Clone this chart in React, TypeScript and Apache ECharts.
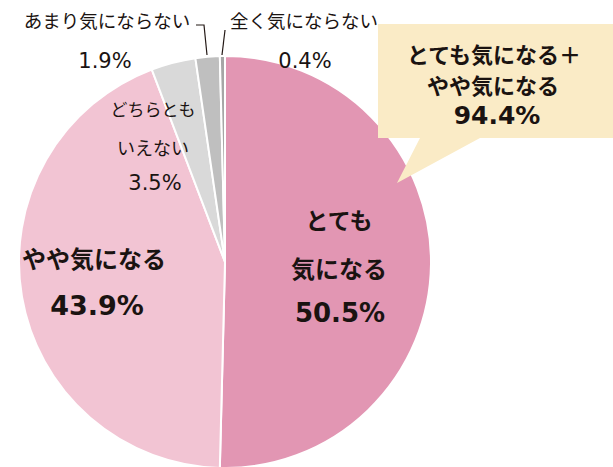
import React, { useEffect, useRef } from "react";
import * as echarts from "echarts";

const categories = ["とても気になる", "やや気になる", "どちらともいえない", "あまり気にならない", "全く気にならない"];
const values = [50.5, 43.9, 3.5, 1.9, 0.4];
const colors = ["#E296B3", "#F2C4D3", "#D9D9D9", "#BFBFBF", "#A6A6A6"];
const calloutLines = ["とても気になる＋", "やや気になる", "94.4%"];

const JP = "'Noto Sans CJK JP', sans-serif";
const NUM = "'DejaVu Sans', 'Noto Sans CJK JP', sans-serif";
const TXT = "#1a1311";

function t(x: number, y: number, text: string, size: number, bold: boolean, font = JP) {
  return {
    type: "text",
    x,
    y,
    z: 10,
    style: {
      text,
      fontSize: size,
      fontWeight: bold ? "bold" : "normal",
      fontFamily: font,
      fill: TXT,
      align: "center",
      verticalAlign: "middle",
    },
  };
}

export default function App() {
  const ref = useRef<HTMLDivElement>(null);
  useEffect(() => {
    const chart = echarts.init(ref.current!, null, { renderer: "svg" });
    chart.setOption({
      animation: false,
      backgroundColor: "#ffffff",
      series: [
        {
          type: "pie",
          center: [225, 262],
          radius: 206,
          startAngle: 90,
          clockwise: true,
          label: { show: false },
          labelLine: { show: false },
          itemStyle: { borderColor: "#ffffff", borderWidth: 2 },
          data: categories.map((name, i) => ({ name, value: values[i], itemStyle: { color: colors[i] } })),
        },
      ],
      graphic: [
        {
          type: "polygon",
          z: 5,
          shape: {
            points: [
              [378, 24],
              [613, 24],
              [613, 138],
              [480, 138],
              [397, 183],
              [420, 138],
              [378, 138],
            ],
          },
          style: { fill: "#FAEBC6" },
        },
        t(494, 53, calloutLines[0], 22, true),
        t(493, 84, calloutLines[1], 22, true),
        t(497, 115, calloutLines[2], 25, true, NUM),
        {
          type: "polyline",
          z: 10,
          shape: { points: [[196, 25], [204, 25], [207, 55]] },
          style: { stroke: "#231815", lineWidth: 1.2, fill: null },
        },
        {
          type: "line",
          z: 10,
          shape: { x1: 225, y1: 30, x2: 222, y2: 55 },
          style: { stroke: "#231815", lineWidth: 1.2 },
        },
        t(107, 20, "あまり気にならない", 18.5, false),
        t(105, 61, "1.9%", 21, false, NUM),
        t(304, 20, "全く気にならない", 18.5, false),
        t(305, 61, "0.4%", 21, false, NUM),
        t(153, 108, "どちらとも", 17, false),
        t(153, 147, "いえない", 18, false),
        t(155, 183, "3.5%", 21, false, NUM),
        t(94, 257, "やや気になる", 24, true),
        t(97, 305, "43.9%", 27, true, NUM),
        t(339, 219, "とても", 23, true),
        t(339, 267, "気になる", 24, true),
        t(340, 313, "50.5%", 26, true, NUM),
      ],
    });
    return () => chart.dispose();
  }, []);
  return <div ref={ref} style={{ position: "fixed", left: 0, top: 0, width: 613, height: 467 }} />;
}
